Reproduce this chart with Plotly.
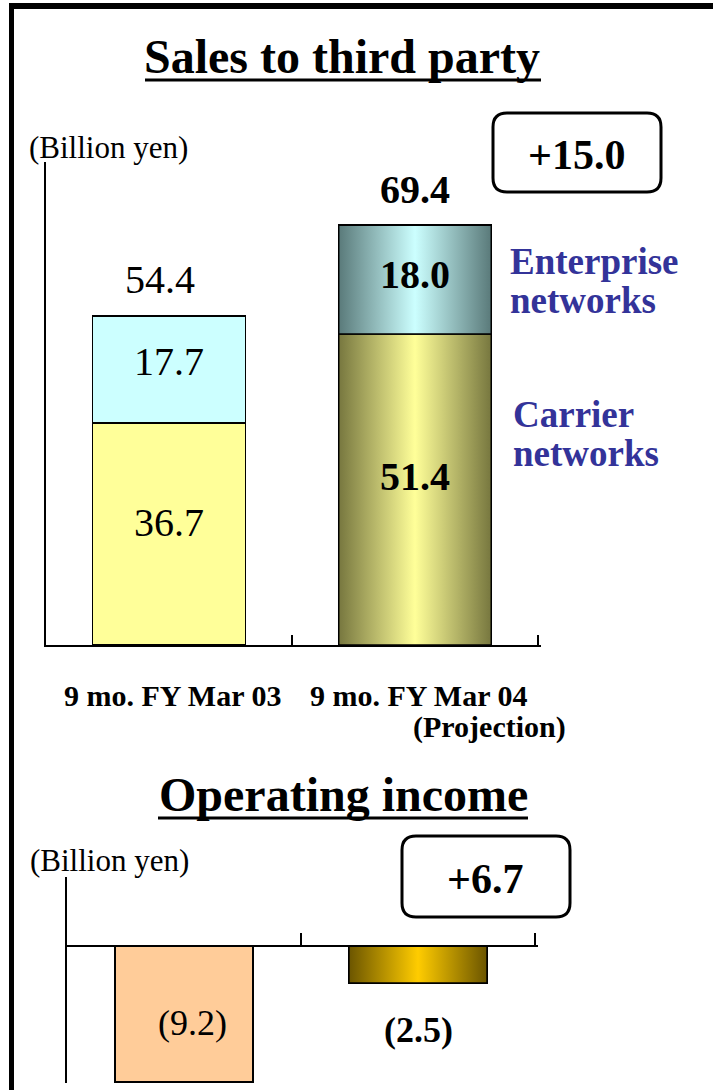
import plotly.graph_objects as go

W, H = 713, 1090

# ---------------- data ----------------
categories = ["9 mo. FY Mar 03", "9 mo. FY Mar 04"]
carrier = [36.7, 51.4]
enterprise = [17.7, 18.0]
totals = [54.4, 69.4]
op_income = [-9.2, -2.5]
sales_change = "+15.0"
op_change = "+6.7"
segment_names = ["Carrier", "Enterprise"]

FONT = "Liberation Serif"
NAVY = "#333399"


def px(x):
    return x / W


def py(y):
    return 1 - y / H


fig = go.Figure()

# ---------------- top chart: sales ----------------
xs = list(range(len(categories)))
bw1 = 0.62
fig.add_trace(go.Bar(
    x=xs, y=carrier, width=bw1, name=segment_names[0],
    marker=dict(color=["#ffff99", "#d9d98a"], line=dict(color="black", width=1.5)),
    xaxis="x", yaxis="y", showlegend=False, hoverinfo="skip"))
fig.add_trace(go.Bar(
    x=xs, y=enterprise, width=bw1, name=segment_names[1],
    marker=dict(color=["#ccffff", "#a8d8d8"], line=dict(color="black", width=1.5)),
    xaxis="x", yaxis="y", showlegend=False, hoverinfo="skip"))


def grad_rect(i, base, val, w, edge, center, xa, ya):
    x0, x1 = i - w / 2, i + w / 2
    y0, y1 = base, base + val
    fig.add_trace(go.Scatter(
        x=[x0, x1, x1, x0, x0], y=[y0, y0, y1, y1, y0],
        mode="lines", fill="toself",
        fillgradient=dict(type="horizontal",
                          colorscale=[[0, edge], [0.5, center], [1, edge]]),
        line=dict(color="black", width=1.5),
        xaxis=xa, yaxis=ya, showlegend=False, hoverinfo="skip"))


# projection bar (index 1) drawn with a shaded fill
grad_rect(1, 0, carrier[1], bw1, "#77773f", "#ffff99", "x", "y")
grad_rect(1, carrier[1], enterprise[1], bw1, "#5a7a7a", "#ccffff", "x", "y")

# ---------------- bottom chart: operating income ----------------
bw2 = 0.59
fig.add_trace(go.Bar(
    x=xs, y=op_income, width=bw2,
    marker=dict(color=["#ffcc99", "#e6b800"], line=dict(color="black", width=1.5)),
    xaxis="x2", yaxis="y2", showlegend=False, hoverinfo="skip"))
grad_rect(1, 0, op_income[1], bw2, "#6b5500", "#ffcc00", "x2", "y2")

# ---------------- annotations ----------------
ann = []


def txt(text, x, y, size, bold=False, color="black", xref="paper", yref="paper",
        xanchor="center", yanchor="middle", xshift=0, yshift=0):
    ann.append(dict(text=f"<b>{text}</b>" if bold else text, x=x, y=y, xref=xref, yref=yref,
                    xanchor=xanchor, yanchor=yanchor, showarrow=False,
                    xshift=xshift, yshift=yshift,
                    font=dict(family=FONT, size=size, color=color)))


# titles
txt("Sales to third party", px(342), py(56), 48, bold=True)
txt("Operating income", px(343), py(794), 48, bold=True)
# unit labels
txt("(Billion yen)", px(108), py(147), 31)
txt("(Billion yen)", px(109), py(860), 31)

# bar values (top)
for i in xs:
    bold = i == 1
    txt(f"{totals[i]:.1f}", i, totals[i], 40, bold=bold, xref="x", yref="y",
        yshift=36, xshift=-9 if i == 0 else 0)
    txt(f"{carrier[i]:.1f}", i, carrier[i] / 2, 40, bold=bold, xref="x", yref="y",
        yshift=11 if i == 0 else 13)
    txt(f"{enterprise[i]:.1f}", i, carrier[i] + enterprise[i] / 2, 40, bold=bold,
        xref="x", yref="y", yshift=8 if i == 0 else 5)

# category labels
txt(categories[0], px(172), py(695), 30, bold=True)
txt(categories[1], px(419), py(695), 30, bold=True)
txt("(Projection)", px(489), py(727), 30, bold=True)

# segment labels
txt("Enterprise", px(508), py(261), 37, bold=True, color=NAVY, xanchor="left")
txt("networks", px(508), py(300), 37, bold=True, color=NAVY, xanchor="left")
txt("Carrier", px(511), py(414), 37, bold=True, color=NAVY, xanchor="left")
txt("networks", px(511), py(453), 37, bold=True, color=NAVY, xanchor="left")

# change boxes
txt(sales_change, px(576), py(155), 42, bold=True)
txt(op_change, px(485), py(879), 42, bold=True)

# operating income values
txt(f"({abs(op_income[0]):.1f})", 0, op_income[0] / 2, 36, xref="x2", yref="y2",
    xshift=8, yshift=-9)
txt(f"({abs(op_income[1]):.1f})", 1, op_income[1], 36, bold=True, xref="x2", yref="y2",
    yshift=-47)

# ---------------- shapes ----------------
shapes = []


def rrect(x0, y0, x1, y1, r):
    p = (f"M {px(x0 + r)},{py(y0)} L {px(x1 - r)},{py(y0)} "
         f"Q {px(x1)},{py(y0)} {px(x1)},{py(y0 + r)} L {px(x1)},{py(y1 - r)} "
         f"Q {px(x1)},{py(y1)} {px(x1 - r)},{py(y1)} L {px(x0 + r)},{py(y1)} "
         f"Q {px(x0)},{py(y1)} {px(x0)},{py(y1 - r)} L {px(x0)},{py(y0 + r)} "
         f"Q {px(x0)},{py(y0)} {px(x0 + r)},{py(y0)} Z")
    shapes.append(dict(type="path", path=p, xref="paper", yref="paper",
                       line=dict(color="black", width=3), fillcolor="white"))


rrect(493, 113, 661, 192, 14)
rrect(402, 836, 570, 917, 14)


def hline(x0, x1, y, w):
    shapes.append(dict(type="line", xref="paper", yref="paper",
                       x0=px(x0), x1=px(x1), y0=py(y), y1=py(y),
                       line=dict(color="black", width=w)))


hline(145, 541, 80, 3)   # title underline
hline(158, 528, 818, 3)  # title underline
hline(9, 713, 6, 6)      # frame top
shapes.append(dict(type="line", xref="paper", yref="paper",
                   x0=px(11.5), x1=px(11.5), y0=py(3), y1=py(1090),
                   line=dict(color="black", width=5)))

axis_common = dict(showgrid=False, zeroline=False, showticklabels=False, fixedrange=True)

# pixel layout (axis extends slightly past the right boundary tick so it is kept)
L1, R1, TOP1, BOT1 = 46, 538, 162, 645
L2, R2, TOP2, ZERO2, BOT2 = 67, 535, 877, 946, 1083
PAD = 2.5
e1 = PAD / ((R1 - L1) / 2)
e2 = PAD / ((R2 - L2) / 2)

fig.update_layout(
    width=W, height=H, margin=dict(l=0, r=0, t=0, b=0),
    paper_bgcolor="white", plot_bgcolor="rgba(0,0,0,0)",
    barmode="stack", showlegend=False,
    annotations=ann, shapes=shapes,
    xaxis=dict(domain=[px(L1), px(R1 + PAD)], range=[-0.5, 1.5 + e1], anchor="y",
               showline=True, linecolor="black", linewidth=2,
               tickmode="array", tickvals=[-0.5, 0.5, 1.5], ticks="inside",
               ticklen=10, tickwidth=1.5, tickcolor="black", **axis_common),
    yaxis=dict(domain=[py(BOT1), py(TOP1)], range=[0, (BOT1 - TOP1) / 6.05], anchor="x",
               showline=True, linecolor="black", linewidth=1.5, ticks="", **axis_common),
    xaxis2=dict(domain=[px(L2), px(R2 + PAD)], range=[-0.5, 1.5 + e2],
                anchor="free", position=py(ZERO2),
                showline=True, linecolor="black", linewidth=2,
                tickmode="array", tickvals=[-0.5, 0.5, 1.5], ticks="inside",
                ticklen=12, tickwidth=1.5, tickcolor="black", **axis_common),
    yaxis2=dict(domain=[py(BOT2), py(TOP2)],
                range=[-(BOT2 - ZERO2) / 14.8, (ZERO2 - TOP2) / 14.8],
                anchor="x2", showline=True, linecolor="black", linewidth=1.5, ticks="",
                **axis_common),
)

fig.write_html(
    "out.html",
    config={"displayModeBar": False},
    post_script="document.body.style.margin='0';document.body.style.overflow='hidden';",
)
